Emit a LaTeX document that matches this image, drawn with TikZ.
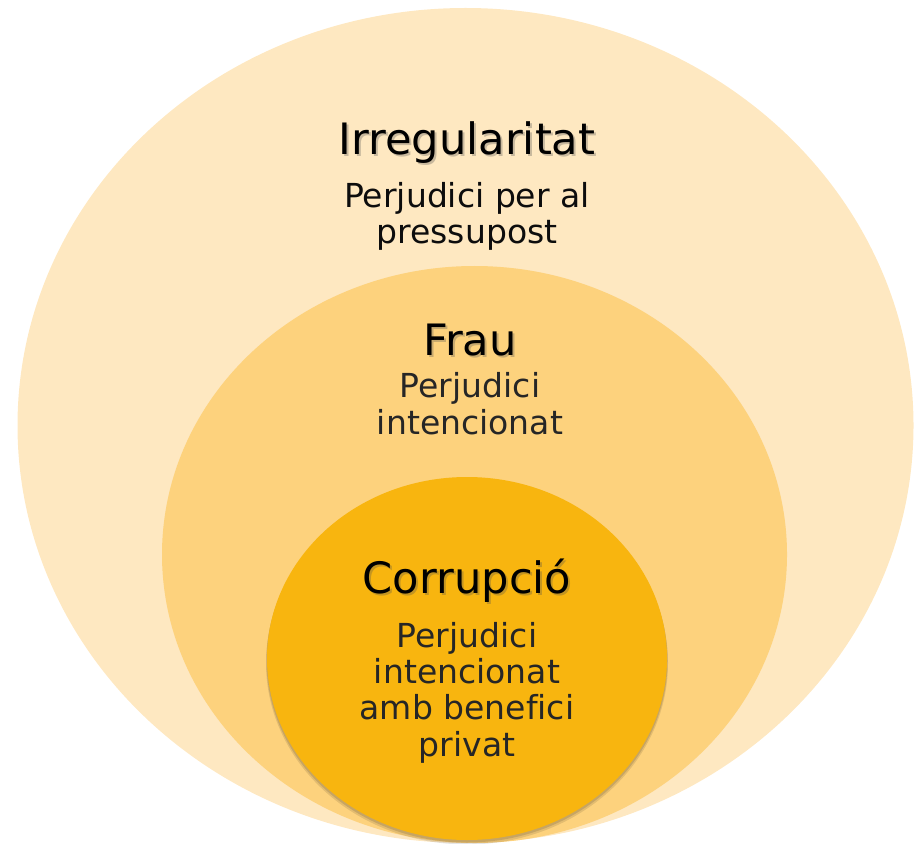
\documentclass[tikz,border=0pt]{standalone}
\usepackage{fontspec}
\setmainfont[Ligatures=NoCommon]{DejaVu Sans}
\usetikzlibrary{positioning}
\definecolor{irrfill}{HTML}{FEE8C1}
\definecolor{fraufill}{HTML}{FDD27D}
\definecolor{corrfill}{HTML}{F8B50F}
\definecolor{textgray}{HTML}{262626}
\begin{document}
\begin{tikzpicture}[x=0.2mm,y=-0.2mm]
\path[use as bounding box] (0,0) rectangle (914,843);

\tikzstyle{title}=[font=\fontsize{24.6}{28}\selectfont,inner sep=0pt,anchor=base]
\tikzstyle{titleshadow}=[title,text=black!70,opacity=.3]
% base of a body node is the baseline of its last line
\tikzstyle{body}=[font=\fontsize{18.8}{20.5}\selectfont,align=center,inner sep=0pt,anchor=base,text=textgray]

% the three sets
\fill[irrfill] (465.5,425.5) ellipse [x radius=448,y radius=417.5];
\fill[fraufill] (474.5,554.5) ellipse [x radius=312.5,y radius=288.5];
\fill[black,opacity=.10] (467,663) ellipse [x radius=201,y radius=181.5];
\fill[black,opacity=.12] (467,661) ellipse [x radius=200.5,y radius=181.5];
\fill[corrfill] (467,658.5) ellipse [x radius=200,y radius=181.5];

% Irregularitat
\node[titleshadow] (irr-sh) at (469,157) {Irregularitat};
\node[title] (irr) at (467,155) {Irregularitat};
\node[body,text=black!95] (irr-txt) at (467,244) {Perjudici per al\\pressupost};

% Frau
\node[titleshadow] (frau-sh) at (472,357) {Frau};
\node[title] (frau) at (470,355) {Frau};
\node[body] (frau-txt) at (470,434) {Perjudici\\intencionat};

% Corrupcio
\node[titleshadow] (corr-sh) at (469,595) {Corrupció};
\node[title] (corr) at (467,593) {Corrupció};
\node[body] (corr-txt) at (467,756) {Perjudici\\intencionat\\amb benefici\\privat};
\end{tikzpicture}
\end{document}
